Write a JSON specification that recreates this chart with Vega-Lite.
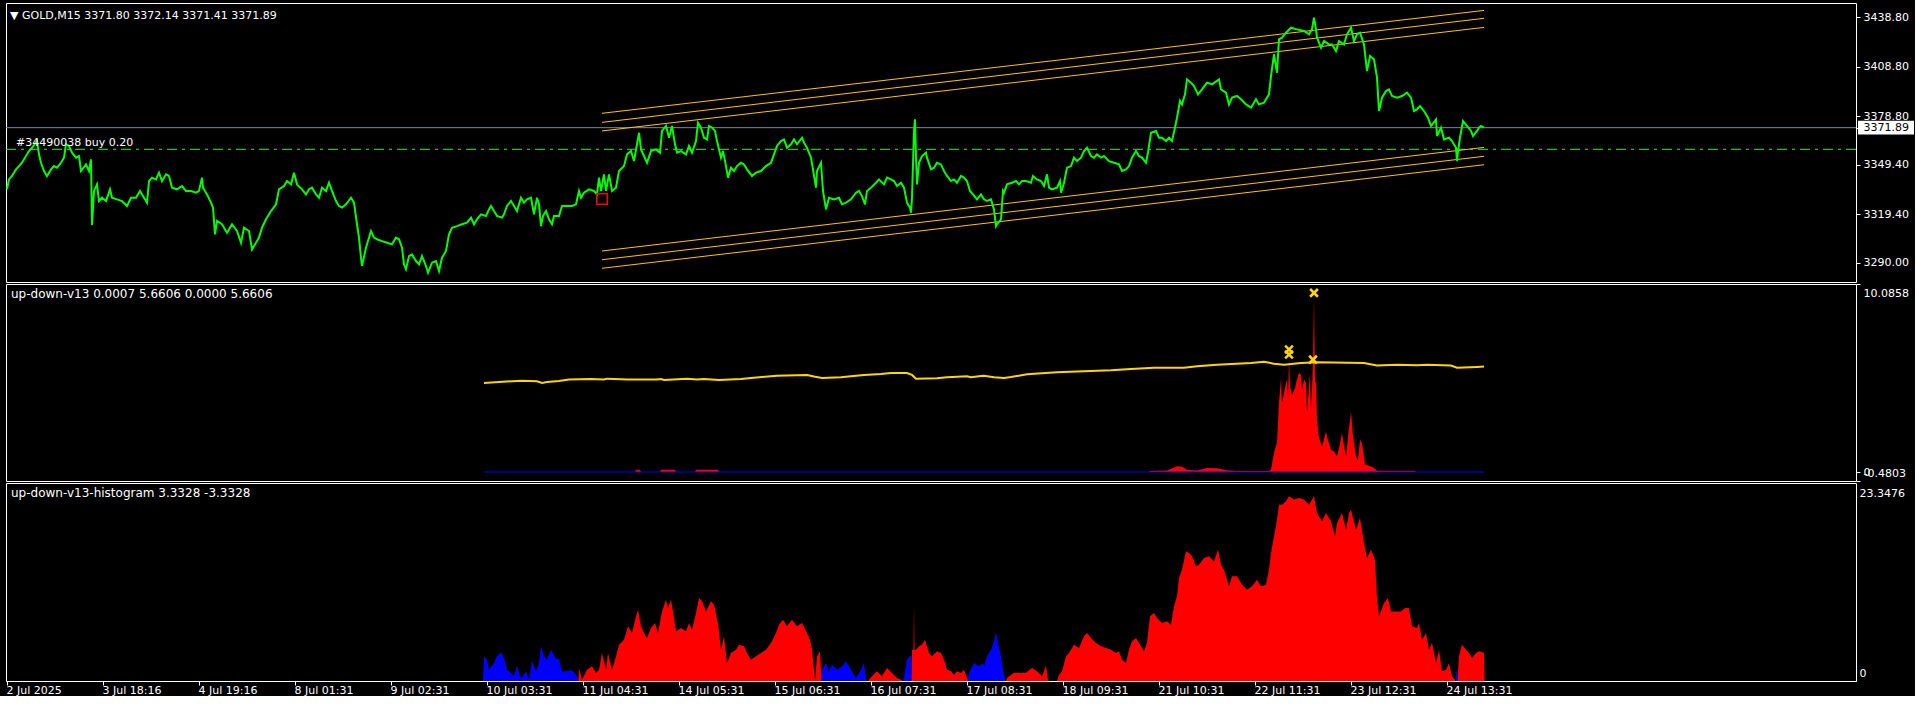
{
"$schema": "https://vega.github.io/schema/vega-lite/v6.json",
"background": "#000000",
"padding": {"left": 2, "top": 2, "right": 0, "bottom": 0},
"spacing": 2,
"bounds": "flush",
"config": {
 "font": "DejaVu Sans",
 "view": {"stroke": "#ffffff", "strokeWidth": 1, "fill": "#000000"},
 "axis": {"labelFont": "DejaVu Sans", "labelFontSize": 11, "labelColor": "#ffffff", "tickColor": "#ffffff", "tickSize": 4, "domain": false, "grid": false, "title": null, "labelOverlap": false, "labelBound": false},
 "title": {"font": "DejaVu Sans", "fontSize": 11, "fontWeight": "normal", "color": "#ffffff", "anchor": "start", "frame": "group", "baseline": "middle"}
},
"datasets": {
 "price": [
 {"i":0,"p":3334.5},{"i":2,"p":3340.5},{"i":5,"p":3342.6},{"i":9,"p":3346.6},{"i":12,"p":3348.6},{"i":15,"p":3350.6},{"i":19,"p":3354.7},{"i":22,"p":3357.7},{"i":25,"p":3359.7},{"i":30,"p":3363.8},{"i":32,"p":3355.7},{"i":34,"p":3350.6},{"i":37,"p":3345.6},{"i":40,"p":3342.6},{"i":44,"p":3346.6},{"i":47,"p":3348.6},{"i":50,"p":3347.6},{"i":54,"p":3350.6},{"i":57,"p":3353.7},{"i":59,"p":3361.8},{"i":62,"p":3360.8},{"i":65,"p":3356.7},{"i":69,"p":3353.7},{"i":72,"p":3354.7},{"i":74,"p":3345.6},{"i":79,"p":3349.6},{"i":82,"p":3345.6},{"i":84,"p":3352.7},{"i":85,"p":3312.8},{"i":87,"p":3333.5},{"i":90,"p":3337.5},{"i":92,"p":3327.4},{"i":95,"p":3329.4},{"i":99,"p":3327.4},{"i":103,"p":3334.5},{"i":105,"p":3329.4},{"i":110,"p":3328.4},{"i":115,"p":3327.4},{"i":120,"p":3324.4},{"i":124,"p":3329.4},{"i":129,"p":3329.4},{"i":133,"p":3333.5},{"i":137,"p":3329.4},{"i":140,"p":3326.4},{"i":142,"p":3339.5},{"i":145,"p":3341.6},{"i":149,"p":3340.5},{"i":152,"p":3344.6},{"i":155,"p":3339.5},{"i":159,"p":3343.6},{"i":162,"p":3342.6},{"i":165,"p":3335.5},{"i":170,"p":3334.5},{"i":175,"p":3336.5},{"i":179,"p":3333.5},{"i":184,"p":3333.5},{"i":189,"p":3332.5},{"i":192,"p":3333.5},{"i":195,"p":3341.6},{"i":196,"p":3335.5},{"i":200,"p":3331.4},{"i":204,"p":3326.4},{"i":206,"p":3323.4},{"i":208,"p":3307.2},{"i":210,"p":3315.3},{"i":215,"p":3313.3},{"i":220,"p":3308.2},{"i":225,"p":3313.3},{"i":230,"p":3309.2},{"i":234,"p":3302.1},{"i":237,"p":3311.2},{"i":242,"p":3309.2},{"i":245,"p":3298.1},{"i":249,"p":3302.1},{"i":252,"p":3305.2},{"i":255,"p":3311.2},{"i":259,"p":3316.3},{"i":264,"p":3321.3},{"i":269,"p":3325.4},{"i":272,"p":3334.5},{"i":277,"p":3336.5},{"i":280,"p":3339.5},{"i":284,"p":3337.5},{"i":287,"p":3344.6},{"i":290,"p":3337.5},{"i":295,"p":3334.5},{"i":299,"p":3331.4},{"i":302,"p":3334.5},{"i":305,"p":3335.5},{"i":309,"p":3331.4},{"i":312,"p":3329.4},{"i":315,"p":3335.5},{"i":319,"p":3333.5},{"i":322,"p":3338.5},{"i":325,"p":3333.5},{"i":329,"p":3327.4},{"i":332,"p":3324.4},{"i":335,"p":3323.4},{"i":339,"p":3325.4},{"i":344,"p":3329.4},{"i":347,"p":3326.4},{"i":350,"p":3313.3},{"i":352,"p":3305.2},{"i":354,"p":3293.0},{"i":355,"p":3288.0},{"i":359,"p":3299.1},{"i":364,"p":3309.2},{"i":367,"p":3305.2},{"i":370,"p":3304.2},{"i":375,"p":3303.1},{"i":380,"p":3302.1},{"i":385,"p":3301.1},{"i":389,"p":3305.2},{"i":392,"p":3304.2},{"i":395,"p":3299.1},{"i":397,"p":3289.0},{"i":399,"p":3286.0},{"i":402,"p":3294.0},{"i":405,"p":3295.0},{"i":409,"p":3291.0},{"i":412,"p":3289.0},{"i":415,"p":3294.0},{"i":419,"p":3288.0},{"i":421,"p":3283.9},{"i":425,"p":3290.0},{"i":429,"p":3291.0},{"i":432,"p":3284.9},{"i":435,"p":3293.0},{"i":439,"p":3297.1},{"i":442,"p":3307.2},{"i":445,"p":3311.2},{"i":450,"p":3312.2},{"i":455,"p":3313.3},{"i":460,"p":3314.3},{"i":464,"p":3317.3},{"i":467,"p":3313.3},{"i":470,"p":3316.3},{"i":474,"p":3319.3},{"i":479,"p":3318.3},{"i":482,"p":3322.3},{"i":484,"p":3324.4},{"i":487,"p":3321.3},{"i":490,"p":3318.3},{"i":495,"p":3317.3},
 {"i":497,"p":3319.3},{"i":500,"p":3324.4},{"i":504,"p":3327.4},{"i":507,"p":3324.4},{"i":510,"p":3321.3},{"i":514,"p":3329.4},{"i":517,"p":3326.4},{"i":520,"p":3328.4},{"i":524,"p":3329.4},{"i":527,"p":3319.3},{"i":530,"p":3329.4},{"i":532,"p":3325.4},{"i":534,"p":3312.2},{"i":536,"p":3318.3},{"i":539,"p":3321.3},{"i":542,"p":3316.3},{"i":545,"p":3313.3},{"i":547,"p":3318.3},{"i":552,"p":3318.3},{"i":555,"p":3324.4},{"i":560,"p":3324.4},{"i":565,"p":3324.4},{"i":569,"p":3325.4},{"i":572,"p":3333.5},{"i":574,"p":3329.4},{"i":577,"p":3332.4},{"i":582,"p":3334.5},{"i":587,"p":3333.5},{"i":590,"p":3331.4},{"i":592,"p":3341.6},{"i":594,"p":3333.5},{"i":597,"p":3343.6},{"i":599,"p":3333.5},{"i":602,"p":3343.6},{"i":605,"p":3333.5},{"i":609,"p":3335.5},{"i":612,"p":3345.6},{"i":617,"p":3348.6},{"i":620,"p":3355.7},{"i":624,"p":3357.7},{"i":627,"p":3351.7},{"i":630,"p":3361.8},{"i":632,"p":3368.8},{"i":634,"p":3358.7},{"i":637,"p":3354.7},{"i":640,"p":3350.6},{"i":644,"p":3357.7},{"i":649,"p":3358.7},{"i":653,"p":3356.7},{"i":655,"p":3369.9},{"i":659,"p":3372.9},{"i":662,"p":3365.8},{"i":665,"p":3372.9},{"i":668,"p":3361.8},{"i":670,"p":3356.7},{"i":674,"p":3357.7},{"i":679,"p":3355.7},{"i":682,"p":3360.8},{"i":685,"p":3356.7},{"i":689,"p":3363.8},{"i":691,"p":3374.9},{"i":694,"p":3371.9},{"i":697,"p":3365.8},{"i":700,"p":3364.8},{"i":702,"p":3372.9},{"i":705,"p":3371.9},{"i":708,"p":3369.9},{"i":710,"p":3363.8},{"i":714,"p":3353.7},{"i":716,"p":3357.7},{"i":719,"p":3348.6},{"i":721,"p":3341.6},{"i":724,"p":3347.6},{"i":727,"p":3345.6},{"i":730,"p":3348.6},{"i":734,"p":3350.6},{"i":737,"p":3349.6},{"i":740,"p":3346.6},{"i":745,"p":3342.6},{"i":749,"p":3344.6},{"i":754,"p":3345.6},{"i":759,"p":3348.6},{"i":764,"p":3350.6},{"i":767,"p":3355.7},{"i":770,"p":3360.8},{"i":774,"p":3363.8},{"i":777,"p":3364.8},{"i":780,"p":3359.7},{"i":784,"p":3361.8},{"i":787,"p":3364.8},{"i":790,"p":3361.8},{"i":795,"p":3365.8},{"i":797,"p":3362.8},{"i":800,"p":3359.7},{"i":804,"p":3353.7},{"i":806,"p":3346.6},{"i":809,"p":3335.5},{"i":810,"p":3345.6},{"i":814,"p":3350.6},{"i":816,"p":3333.5},{"i":819,"p":3322.3},{"i":822,"p":3329.4},{"i":827,"p":3328.4},{"i":832,"p":3329.4},{"i":835,"p":3325.4},{"i":839,"p":3326.4},{"i":844,"p":3328.4},{"i":849,"p":3332.4},{"i":852,"p":3333.5},{"i":855,"p":3330.4},{"i":858,"p":3325.4},{"i":860,"p":3333.5},{"i":864,"p":3335.5},{"i":869,"p":3338.5},{"i":872,"p":3340.5},{"i":877,"p":3337.5},{"i":880,"p":3341.6},{"i":884,"p":3340.5},{"i":887,"p":3339.5},{"i":890,"p":3336.5},{"i":894,"p":3338.5},{"i":897,"p":3335.5},{"i":900,"p":3326.4},{"i":903,"p":3323.4},{"i":904,"p":3320.3},{"i":905,"p":3329.4},{"i":907,"p":3369.9},{"i":908,"p":3376.9},{"i":909,"p":3353.7},{"i":910,"p":3337.5},{"i":912,"p":3350.6},{"i":915,"p":3354.7},{"i":919,"p":3356.7},{"i":920,"p":3353.7},{"i":924,"p":3346.6},{"i":927,"p":3347.6},{"i":930,"p":3350.6},{"i":934,"p":3349.6},{"i":937,"p":3345.6},{"i":940,"p":3342.6},{"i":944,"p":3339.5},{"i":947,"p":3340.5},{"i":950,"p":3338.5},{"i":954,"p":3342.6},{"i":957,"p":3341.6},{"i":960,"p":3339.5},{"i":963,"p":3333.5},{"i":966,"p":3331.4},{"i":970,"p":3328.4},{"i":974,"p":3331.4},{"i":977,"p":3328.4},{"i":980,"p":3327.4},{"i":984,"p":3328.4},{"i":987,"p":3322.3},{"i":989,"p":3312.2},{"i":990,"p":3313.3},{"i":994,"p":3316.3},{"i":996,"p":3333.5},
 {"i":997,"p":3332.4},{"i":1000,"p":3337.5},{"i":1005,"p":3338.5},{"i":1009,"p":3339.5},{"i":1012,"p":3337.5},{"i":1015,"p":3339.5},{"i":1019,"p":3339.5},{"i":1024,"p":3338.5},{"i":1026,"p":3342.6},{"i":1030,"p":3340.5},{"i":1034,"p":3339.5},{"i":1037,"p":3336.5},{"i":1040,"p":3343.6},{"i":1042,"p":3335.5},{"i":1045,"p":3334.5},{"i":1050,"p":3335.5},{"i":1053,"p":3339.5},{"i":1054,"p":3332.4},{"i":1057,"p":3338.5},{"i":1060,"p":3347.6},{"i":1064,"p":3348.6},{"i":1067,"p":3353.7},{"i":1070,"p":3351.6},{"i":1074,"p":3353.7},{"i":1077,"p":3357.7},{"i":1080,"p":3359.7},{"i":1084,"p":3354.7},{"i":1087,"p":3353.7},{"i":1090,"p":3355.7},{"i":1094,"p":3353.7},{"i":1097,"p":3354.7},{"i":1102,"p":3351.6},{"i":1107,"p":3350.6},{"i":1112,"p":3349.6},{"i":1115,"p":3345.6},{"i":1119,"p":3346.6},{"i":1122,"p":3348.6},{"i":1125,"p":3353.7},{"i":1129,"p":3357.7},{"i":1132,"p":3354.7},{"i":1135,"p":3353.7},{"i":1139,"p":3350.6},{"i":1141,"p":3356.7},{"i":1144,"p":3368.8},{"i":1149,"p":3369.9},{"i":1152,"p":3365.8},{"i":1155,"p":3365.8},{"i":1159,"p":3363.8},{"i":1162,"p":3365.8},{"i":1165,"p":3363.8},{"i":1168,"p":3371.9},{"i":1170,"p":3377.9},{"i":1173,"p":3388.1},{"i":1175,"p":3386.0},{"i":1178,"p":3392.1},{"i":1180,"p":3401.2},{"i":1184,"p":3399.2},{"i":1187,"p":3397.1},{"i":1191,"p":3392.1},{"i":1195,"p":3395.1},{"i":1200,"p":3399.2},{"i":1205,"p":3398.2},{"i":1212,"p":3401.2},{"i":1214,"p":3395.1},{"i":1219,"p":3393.1},{"i":1222,"p":3386.0},{"i":1225,"p":3390.1},{"i":1230,"p":3391.1},{"i":1234,"p":3389.1},{"i":1239,"p":3386.0},{"i":1244,"p":3384.0},{"i":1249,"p":3389.1},{"i":1252,"p":3386.0},{"i":1257,"p":3387.0},{"i":1262,"p":3392.1},{"i":1264,"p":3403.2},{"i":1267,"p":3416.4},{"i":1270,"p":3405.2},{"i":1272,"p":3425.5},{"i":1275,"p":3426.5},{"i":1279,"p":3429.5},{"i":1284,"p":3432.5},{"i":1290,"p":3431.5},{"i":1297,"p":3430.5},{"i":1302,"p":3428.5},{"i":1305,"p":3431.5},{"i":1307,"p":3438.6},{"i":1309,"p":3431.5},{"i":1310,"p":3426.5},{"i":1314,"p":3420.4},{"i":1317,"p":3424.4},{"i":1322,"p":3422.4},{"i":1325,"p":3422.4},{"i":1329,"p":3418.4},{"i":1332,"p":3424.4},{"i":1337,"p":3422.4},{"i":1340,"p":3428.5},{"i":1344,"p":3432.5},{"i":1347,"p":3424.4},{"i":1350,"p":3428.5},{"i":1353,"p":3429.5},{"i":1357,"p":3422.4},{"i":1360,"p":3406.2},{"i":1363,"p":3415.3},{"i":1367,"p":3413.3},{"i":1370,"p":3402.2},{"i":1372,"p":3382.0},{"i":1375,"p":3390.1},{"i":1379,"p":3394.1},{"i":1382,"p":3395.1},{"i":1385,"p":3391.1},{"i":1390,"p":3390.1},{"i":1395,"p":3391.1},{"i":1400,"p":3393.1},{"i":1404,"p":3390.1},{"i":1407,"p":3382.0},{"i":1410,"p":3383.0},{"i":1413,"p":3385.0},{"i":1417,"p":3382.0},{"i":1421,"p":3377.9},{"i":1424,"p":3372.9},{"i":1429,"p":3376.9},{"i":1430,"p":3366.8},{"i":1434,"p":3371.9},{"i":1437,"p":3364.8},{"i":1442,"p":3365.8},{"i":1445,"p":3363.8},{"i":1449,"p":3359.7},{"i":1450,"p":3351.6},{"i":1451,"p":3357.7},{"i":1453,"p":3365.8},{"i":1456,"p":3375.9},{"i":1460,"p":3372.9},{"i":1464,"p":3369.9},{"i":1466,"p":3366.8},{"i":1470,"p":3369.9},{"i":1472,"p":3371.9},{"i":1474,"p":3372.9},{"i":1477,"p":3371.89}
 ],
 "chan": [
 {"id":"u1","i":595,"p":3380.6},{"id":"u1","i":1477,"p":3443.0},
 {"id":"u2","i":595,"p":3375.1},{"id":"u2","i":1477,"p":3438.2},
 {"id":"u3","i":595,"p":3369.9},{"id":"u3","i":1477,"p":3432.7},
 {"id":"l1","i":595,"p":3297.1},{"id":"l1","i":1477,"p":3359.9},
 {"id":"l2","i":595,"p":3291.8},{"id":"l2","i":1477,"p":3354.5},
 {"id":"l3","i":595,"p":3286.6},{"id":"l3","i":1477,"p":3349.4}
 ],
 "midyel": [
 {"i":477,"v":4.78},{"i":492,"v":4.83},{"i":515,"v":4.90},{"i":530,"v":4.87},{"i":535,"v":4.78},{"i":540,"v":4.83},{"i":552,"v":4.88},{"i":562,"v":4.96},{"i":584,"v":4.99},{"i":597,"v":4.96},{"i":600,"v":5.01},{"i":607,"v":4.99},{"i":620,"v":4.96},{"i":650,"v":4.96},{"i":654,"v":4.99},{"i":657,"v":4.94},{"i":680,"v":5.01},{"i":690,"v":4.96},{"i":697,"v":4.99},{"i":712,"v":4.94},{"i":734,"v":4.99},{"i":744,"v":5.05},{"i":755,"v":5.10},{"i":770,"v":5.17},{"i":800,"v":5.21},{"i":807,"v":5.12},{"i":815,"v":5.05},{"i":834,"v":5.08},{"i":844,"v":5.14},{"i":857,"v":5.21},{"i":874,"v":5.26},{"i":884,"v":5.31},{"i":900,"v":5.31},{"i":905,"v":5.21},{"i":909,"v":5.01},{"i":930,"v":5.03},{"i":940,"v":5.08},{"i":960,"v":5.14},{"i":964,"v":5.08},{"i":974,"v":5.15},{"i":977,"v":5.17},{"i":987,"v":5.08},{"i":997,"v":5.05},{"i":1004,"v":5.10},{"i":1020,"v":5.24},{"i":1050,"v":5.35},{"i":1077,"v":5.40},{"i":1104,"v":5.46},{"i":1124,"v":5.53},{"i":1147,"v":5.60},{"i":1177,"v":5.60},{"i":1190,"v":5.67},{"i":1210,"v":5.76},{"i":1244,"v":5.85},{"i":1257,"v":5.92},{"i":1267,"v":5.81},{"i":1277,"v":5.76},{"i":1294,"v":5.85},{"i":1310,"v":5.89},{"i":1357,"v":5.85},{"i":1370,"v":5.71},{"i":1390,"v":5.76},{"i":1410,"v":5.73},{"i":1420,"v":5.76},{"i":1444,"v":5.71},{"i":1450,"v":5.60},{"i":1470,"v":5.64},{"i":1477,"v":5.66}
 ],
 "midred": [
 {"i":477,"v":0},{"i":628,"v":0},{"i":629,"v":0.12},{"i":633,"v":0.12},{"i":634,"v":0},{"i":653,"v":0},{"i":654,"v":0.12},{"i":668,"v":0.12},{"i":669,"v":0},{"i":688,"v":0},{"i":689,"v":0.12},{"i":711,"v":0.12},{"i":712,"v":0},{"i":1142,"v":0},{"i":1143,"v":0.05},{"i":1160,"v":0.08},{"i":1170,"v":0.31},{"i":1175,"v":0.28},{"i":1180,"v":0.12},{"i":1190,"v":0.08},{"i":1200,"v":0.22},{"i":1210,"v":0.2},{"i":1220,"v":0.1},{"i":1230,"v":0.05},{"i":1262,"v":0.05},{"i":1264,"v":0.13},{"i":1267,"v":1.03},{"i":1270,"v":1.57},{"i":1272,"v":3.71},{"i":1274,"v":5.05},{"i":1275,"v":3.71},{"i":1277,"v":4.24},{"i":1279,"v":4.78},{"i":1280,"v":4.96},{"i":1281,"v":4.0},{"i":1282,"v":6.12},{"i":1283,"v":4.6},{"i":1285,"v":4.15},{"i":1288,"v":4.51},{"i":1290,"v":4.96},{"i":1292,"v":5.31},{"i":1294,"v":5.22},{"i":1295,"v":4.42},{"i":1297,"v":4.96},{"i":1299,"v":4.78},{"i":1300,"v":3.17},{"i":1303,"v":5.31},{"i":1304,"v":3.35},{"i":1305,"v":4.5},{"i":1306,"v":5.85},{"i":1307,"v":9.43},{"i":1308,"v":4.9},{"i":1309,"v":4.78},{"i":1310,"v":2.81},{"i":1312,"v":1.82},{"i":1315,"v":1.37},{"i":1319,"v":2.18},{"i":1320,"v":1.91},{"i":1324,"v":1.19},{"i":1327,"v":1.10},{"i":1330,"v":0.84},{"i":1332,"v":1.28},{"i":1335,"v":2.09},{"i":1336,"v":1.73},{"i":1339,"v":0.84},{"i":1341,"v":1.91},{"i":1344,"v":3.25},{"i":1346,"v":1.91},{"i":1349,"v":0.84},{"i":1351,"v":0.66},{"i":1353,"v":1.73},{"i":1355,"v":1.55},{"i":1358,"v":0.40},{"i":1362,"v":0.34},{"i":1367,"v":0.22},{"i":1370,"v":0.07},{"i":1408,"v":0.05},{"i":1409,"v":0},{"i":1477,"v":0}
 ],
 "midx": [
 {"i":1282,"v":6.57},{"i":1282,"v":6.30},{"i":1306,"v":6.03},{"i":1307,"v":9.61}
 ],
 "hist": [
 {"s":"b1","c":"b","i":476,"v":0},{"s":"b1","c":"b","i":477,"v":2.91},{"s":"b1","c":"b","i":480,"v":2.52},{"s":"b1","c":"b","i":482,"v":1.34},{"s":"b1","c":"b","i":487,"v":2.12},{"s":"b1","c":"b","i":490,"v":2.91},{"s":"b1","c":"b","i":494,"v":3.38},{"s":"b1","c":"b","i":497,"v":2.71},{"s":"b1","c":"b","i":500,"v":1.34},{"s":"b1","c":"b","i":504,"v":0.94},{"s":"b1","c":"b","i":507,"v":0.55},{"s":"b1","c":"b","i":510,"v":1.81},{"s":"b1","c":"b","i":513,"v":0.55},{"s":"b1","c":"b","i":515,"v":0.35},{"s":"b1","c":"b","i":519,"v":1.14},{"s":"b1","c":"b","i":522,"v":0.16},{"s":"b1","c":"b","i":525,"v":2.32},{"s":"b1","c":"b","i":529,"v":1.14},{"s":"b1","c":"b","i":532,"v":2.12},{"s":"b1","c":"b","i":534,"v":4.09},{"s":"b1","c":"b","i":537,"v":2.91},{"s":"b1","c":"b","i":540,"v":2.52},{"s":"b1","c":"b","i":544,"v":3.69},{"s":"b1","c":"b","i":549,"v":2.59},{"s":"b1","c":"b","i":552,"v":2.59},{"s":"b1","c":"b","i":555,"v":1.14},{"s":"b1","c":"b","i":560,"v":1.14},{"s":"b1","c":"b","i":565,"v":1.26},{"s":"b1","c":"b","i":569,"v":0.75},{"s":"b1","c":"b","i":571,"v":0.35},{"s":"b1","c":"b","i":571.5,"v":0},
 {"s":"r1","c":"r","i":571.5,"v":0},{"s":"r1","c":"r","i":572,"v":1.53},{"s":"r1","c":"r","i":575,"v":0.16},{"s":"r1","c":"r","i":580,"v":1.34},{"s":"r1","c":"r","i":585,"v":1.73},{"s":"r1","c":"r","i":589,"v":0.94},{"s":"r1","c":"r","i":592,"v":1.34},{"s":"r1","c":"r","i":595,"v":3.30},{"s":"r1","c":"r","i":599,"v":1.34},{"s":"r1","c":"r","i":601,"v":3.30},{"s":"r1","c":"r","i":605,"v":1.34},{"s":"r1","c":"r","i":609,"v":2.91},{"s":"r1","c":"r","i":612,"v":4.28},{"s":"r1","c":"r","i":617,"v":4.87},{"s":"r1","c":"r","i":621,"v":6.45},{"s":"r1","c":"r","i":625,"v":5.66},{"s":"r1","c":"r","i":629,"v":7.63},{"s":"r1","c":"r","i":631,"v":8.41},{"s":"r1","c":"r","i":634,"v":6.45},{"s":"r1","c":"r","i":637,"v":5.66},{"s":"r1","c":"r","i":640,"v":5.07},{"s":"r1","c":"r","i":644,"v":6.25},{"s":"r1","c":"r","i":648,"v":6.84},{"s":"r1","c":"r","i":651,"v":5.66},{"s":"r1","c":"r","i":655,"v":8.21},{"s":"r1","c":"r","i":659,"v":9.59},{"s":"r1","c":"r","i":661,"v":8.61},{"s":"r1","c":"r","i":664,"v":9.59},{"s":"r1","c":"r","i":666,"v":8.21},{"s":"r1","c":"r","i":669,"v":5.86},{"s":"r1","c":"r","i":674,"v":6.25},{"s":"r1","c":"r","i":679,"v":5.86},{"s":"r1","c":"r","i":682,"v":6.84},{"s":"r1","c":"r","i":685,"v":6.05},{"s":"r1","c":"r","i":689,"v":8.02},{"s":"r1","c":"r","i":692,"v":9.79},{"s":"r1","c":"r","i":695,"v":9.40},{"s":"r1","c":"r","i":699,"v":8.21},{"s":"r1","c":"r","i":704,"v":9.40},{"s":"r1","c":"r","i":707,"v":9.00},{"s":"r1","c":"r","i":711,"v":6.84},{"s":"r1","c":"r","i":714,"v":3.69},{"s":"r1","c":"r","i":717,"v":5.27},{"s":"r1","c":"r","i":720,"v":2.12},{"s":"r1","c":"r","i":724,"v":3.30},{"s":"r1","c":"r","i":729,"v":3.69},{"s":"r1","c":"r","i":732,"v":4.28},{"s":"r1","c":"r","i":737,"v":4.09},{"s":"r1","c":"r","i":740,"v":3.30},{"s":"r1","c":"r","i":744,"v":2.52},{"s":"r1","c":"r","i":749,"v":2.91},{"s":"r1","c":"r","i":754,"v":3.30},{"s":"r1","c":"r","i":759,"v":3.69},{"s":"r1","c":"r","i":764,"v":4.48},{"s":"r1","c":"r","i":769,"v":5.66},{"s":"r1","c":"r","i":772,"v":6.64},{"s":"r1","c":"r","i":776,"v":7.23},{"s":"r1","c":"r","i":780,"v":6.45},{"s":"r1","c":"r","i":785,"v":7.23},{"s":"r1","c":"r","i":790,"v":6.45},{"s":"r1","c":"r","i":795,"v":6.84},{"s":"r1","c":"r","i":800,"v":5.66},{"s":"r1","c":"r","i":803,"v":4.87},{"s":"r1","c":"r","i":805,"v":3.69},{"s":"r1","c":"r","i":808,"v":0.16},{"s":"r1","c":"r","i":810,"v":2.91},{"s":"r1","c":"r","i":813,"v":3.50},{"s":"r1","c":"r","i":814.5,"v":0},
 {"s":"b2","c":"b","i":814.5,"v":0},{"s":"b2","c":"b","i":815,"v":1.34},{"s":"b2","c":"b","i":819,"v":2.12},{"s":"b2","c":"b","i":822,"v":1.14},{"s":"b2","c":"b","i":825,"v":1.93},{"s":"b2","c":"b","i":830,"v":1.34},{"s":"b2","c":"b","i":835,"v":1.73},{"s":"b2","c":"b","i":839,"v":2.32},{"s":"b2","c":"b","i":844,"v":1.34},{"s":"b2","c":"b","i":849,"v":0.35},{"s":"b2","c":"b","i":854,"v":1.34},{"s":"b2","c":"b","i":857,"v":2.12},{"s":"b2","c":"b","i":859,"v":0.16},{"s":"b2","c":"b","i":860,"v":0},
 {"s":"r2","c":"r","i":861,"v":0},{"s":"r2","c":"r","i":865,"v":0.55},{"s":"r2","c":"r","i":870,"v":1.14},{"s":"r2","c":"r","i":875,"v":0.55},{"s":"r2","c":"r","i":880,"v":1.53},{"s":"r2","c":"r","i":885,"v":0.94},{"s":"r2","c":"r","i":890,"v":0.35},{"s":"r2","c":"r","i":894,"v":0.16},{"s":"r2","c":"r","i":895,"v":0},
 {"s":"b3","c":"b","i":896,"v":0},{"s":"b3","c":"b","i":897,"v":0.35},{"s":"b3","c":"b","i":900,"v":2.52},{"s":"b3","c":"b","i":904,"v":3.10},{"s":"b3","c":"b","i":904.5,"v":0},
 {"s":"r3","c":"r","i":904.5,"v":0},{"s":"r3","c":"r","i":905,"v":3.69},{"s":"r3","c":"r","i":906.5,"v":3.69},{"s":"r3","c":"r","i":907,"v":9.00},{"s":"r3","c":"r","i":907.5,"v":3.69},{"s":"r3","c":"r","i":909,"v":3.69},{"s":"r3","c":"r","i":912,"v":4.09},{"s":"r3","c":"r","i":915,"v":4.28},{"s":"r3","c":"r","i":918,"v":4.87},{"s":"r3","c":"r","i":922,"v":3.30},{"s":"r3","c":"r","i":925,"v":2.91},{"s":"r3","c":"r","i":930,"v":3.50},{"s":"r3","c":"r","i":934,"v":3.30},{"s":"r3","c":"r","i":937,"v":2.52},{"s":"r3","c":"r","i":940,"v":1.34},{"s":"r3","c":"r","i":944,"v":1.14},{"s":"r3","c":"r","i":947,"v":0.75},{"s":"r3","c":"r","i":950,"v":1.14},{"s":"r3","c":"r","i":954,"v":0.94},{"s":"r3","c":"r","i":957,"v":1.34},{"s":"r3","c":"r","i":960,"v":0.35},{"s":"r3","c":"r","i":961,"v":0},
 {"s":"b4","c":"b","i":961,"v":0},{"s":"b4","c":"b","i":962,"v":0.94},{"s":"b4","c":"b","i":967,"v":2.12},{"s":"b4","c":"b","i":972,"v":1.73},{"s":"b4","c":"b","i":976,"v":2.12},{"s":"b4","c":"b","i":977,"v":1.73},{"s":"b4","c":"b","i":980,"v":2.91},{"s":"b4","c":"b","i":984,"v":3.69},{"s":"b4","c":"b","i":987,"v":4.68},{"s":"b4","c":"b","i":989,"v":5.74},{"s":"b4","c":"b","i":991,"v":4.48},{"s":"b4","c":"b","i":994,"v":2.91},{"s":"b4","c":"b","i":996,"v":1.34},{"s":"b4","c":"b","i":998,"v":0.16},{"s":"b4","c":"b","i":999,"v":0},
 {"s":"r4","c":"r","i":999,"v":0},{"s":"r4","c":"r","i":1000,"v":0.35},{"s":"r4","c":"r","i":1007,"v":0.98},{"s":"r4","c":"r","i":1014,"v":0.94},{"s":"r4","c":"r","i":1019,"v":0.98},{"s":"r4","c":"r","i":1025,"v":1.53},{"s":"r4","c":"r","i":1030,"v":1.14},{"s":"r4","c":"r","i":1035,"v":0.55},{"s":"r4","c":"r","i":1039,"v":1.81},{"s":"r4","c":"r","i":1041,"v":0.16},{"s":"r4","c":"r","i":1042,"v":0},
 {"s":"r5","c":"r","i":1050,"v":0},{"s":"r5","c":"r","i":1052,"v":0.75},{"s":"r5","c":"r","i":1055,"v":1.14},{"s":"r5","c":"r","i":1059,"v":2.91},{"s":"r5","c":"r","i":1062,"v":3.30},{"s":"r5","c":"r","i":1067,"v":4.28},{"s":"r5","c":"r","i":1072,"v":3.89},{"s":"r5","c":"r","i":1077,"v":5.27},{"s":"r5","c":"r","i":1080,"v":5.66},{"s":"r5","c":"r","i":1084,"v":5.07},{"s":"r5","c":"r","i":1089,"v":4.48},{"s":"r5","c":"r","i":1094,"v":4.09},{"s":"r5","c":"r","i":1099,"v":3.89},{"s":"r5","c":"r","i":1104,"v":3.69},{"s":"r5","c":"r","i":1109,"v":3.30},{"s":"r5","c":"r","i":1112,"v":3.50},{"s":"r5","c":"r","i":1115,"v":2.52},{"s":"r5","c":"r","i":1119,"v":2.12},{"s":"r5","c":"r","i":1122,"v":3.69},{"s":"r5","c":"r","i":1125,"v":4.68},{"s":"r5","c":"r","i":1129,"v":5.07},{"s":"r5","c":"r","i":1132,"v":4.48},{"s":"r5","c":"r","i":1137,"v":3.50},{"s":"r5","c":"r","i":1140,"v":4.48},{"s":"r5","c":"r","i":1143,"v":7.63},{"s":"r5","c":"r","i":1147,"v":8.02},{"s":"r5","c":"r","i":1150,"v":7.43},{"s":"r5","c":"r","i":1155,"v":6.84},{"s":"r5","c":"r","i":1160,"v":7.04},{"s":"r5","c":"r","i":1164,"v":6.64},{"s":"r5","c":"r","i":1167,"v":8.81},{"s":"r5","c":"r","i":1170,"v":9.98},{"s":"r5","c":"r","i":1172,"v":12.15},{"s":"r5","c":"r","i":1175,"v":13.13},{"s":"r5","c":"r","i":1179,"v":15.29},{"s":"r5","c":"r","i":1182,"v":15.10},{"s":"r5","c":"r","i":1185,"v":14.70},{"s":"r5","c":"r","i":1189,"v":13.52},{"s":"r5","c":"r","i":1192,"v":13.72},{"s":"r5","c":"r","i":1197,"v":14.50},{"s":"r5","c":"r","i":1202,"v":14.70},{"s":"r5","c":"r","i":1207,"v":14.11},{"s":"r5","c":"r","i":1211,"v":15.48},{"s":"r5","c":"r","i":1214,"v":13.72},{"s":"r5","c":"r","i":1217,"v":13.13},{"s":"r5","c":"r","i":1222,"v":11.16},{"s":"r5","c":"r","i":1225,"v":12.34},{"s":"r5","c":"r","i":1230,"v":12.34},{"s":"r5","c":"r","i":1235,"v":11.36},{"s":"r5","c":"r","i":1240,"v":10.77},{"s":"r5","c":"r","i":1245,"v":11.16},{"s":"r5","c":"r","i":1250,"v":11.95},{"s":"r5","c":"r","i":1254,"v":11.16},{"s":"r5","c":"r","i":1259,"v":11.36},{"s":"r5","c":"r","i":1262,"v":13.13},{"s":"r5","c":"r","i":1264,"v":15.10},{"s":"r5","c":"r","i":1267,"v":17.06},{"s":"r5","c":"r","i":1270,"v":19.02},{"s":"r5","c":"r","i":1272,"v":20.79},{"s":"r5","c":"r","i":1275,"v":20.79},{"s":"r5","c":"r","i":1279,"v":21.19},{"s":"r5","c":"r","i":1282,"v":21.78},{"s":"r5","c":"r","i":1287,"v":21.39},{"s":"r5","c":"r","i":1292,"v":21.58},{"s":"r5","c":"r","i":1297,"v":21.39},{"s":"r5","c":"r","i":1302,"v":20.79},{"s":"r5","c":"r","i":1307,"v":21.78},{"s":"r5","c":"r","i":1310,"v":19.81},{"s":"r5","c":"r","i":1315,"v":18.83},{"s":"r5","c":"r","i":1319,"v":19.81},{"s":"r5","c":"r","i":1324,"v":18.83},{"s":"r5","c":"r","i":1328,"v":17.06},{"s":"r5","c":"r","i":1330,"v":18.63},{"s":"r5","c":"r","i":1335,"v":19.81},{"s":"r5","c":"r","i":1339,"v":17.84},{"s":"r5","c":"r","i":1342,"v":19.81},{"s":"r5","c":"r","i":1344,"v":20.20},{"s":"r5","c":"r","i":1349,"v":17.84},{"s":"r5","c":"r","i":1353,"v":19.22},{"s":"r5","c":"r","i":1357,"v":16.27},{"s":"r5","c":"r","i":1360,"v":14.50},{"s":"r5","c":"r","i":1364,"v":15.48},{"s":"r5","c":"r","i":1368,"v":14.31},{"s":"r5","c":"r","i":1370,"v":9.79},{"s":"r5","c":"r","i":1372,"v":7.63},{"s":"r5","c":"r","i":1377,"v":9.20},{"s":"r5","c":"r","i":1381,"v":9.79},{"s":"r5","c":"r","i":1384,"v":8.21},{"s":"r5","c":"r","i":1389,"v":8.21},{"s":"r5","c":"r","i":1394,"v":8.21},{"s":"r5","c":"r","i":1398,"v":8.61},{"s":"r5","c":"r","i":1402,"v":8.61},{"s":"r5","c":"r","i":1405,"v":6.45},{"s":"r5","c":"r","i":1410,"v":6.25},{"s":"r5","c":"r","i":1412,"v":6.84},{"s":"r5","c":"r","i":1415,"v":4.87},{"s":"r5","c":"r","i":1419,"v":5.66},{"s":"r5","c":"r","i":1422,"v":3.69},{"s":"r5","c":"r","i":1425,"v":4.48},{"s":"r5","c":"r","i":1429,"v":2.12},{"s":"r5","c":"r","i":1432,"v":3.69},{"s":"r5","c":"r","i":1435,"v":1.14},{"s":"r5","c":"r","i":1439,"v":1.34},{"s":"r5","c":"r","i":1442,"v":2.12},{"s":"r5","c":"r","i":1445,"v":0.55},{"s":"r5","c":"r","i":1448,"v":0.16},{"s":"r5","c":"r","i":1448.5,"v":0},
 {"s":"b5","c":"b","i":1448.5,"v":0},{"s":"b5","c":"b","i":1449,"v":1.34},{"s":"b5","c":"b","i":1450,"v":1.0},{"s":"b5","c":"b","i":1450.5,"v":0},
 {"s":"r6","c":"r","i":1450.5,"v":0},{"s":"r6","c":"r","i":1452,"v":2.91},{"s":"r6","c":"r","i":1455,"v":4.28},{"s":"r6","c":"r","i":1459,"v":3.69},{"s":"r6","c":"r","i":1462,"v":3.30},{"s":"r6","c":"r","i":1465,"v":2.71},{"s":"r6","c":"r","i":1469,"v":3.30},{"s":"r6","c":"r","i":1472,"v":3.50},{"s":"r6","c":"r","i":1475,"v":3.38},{"s":"r6","c":"r","i":1477,"v":3.33},{"s":"r6","c":"r","i":1477.5,"v":0}
 ]
},
"vconcat": [
 {
  "width": 1850, "height": 279,
  "title": {"text": "▼  GOLD,M15  3371.80 3372.14 3371.41 3371.89", "offset": -18, "dx": 4},
  "encoding": {
   "x": {"field": "i", "type": "quantitative", "scale": {"domain": [-1, 1849], "nice": false, "zero": false}, "axis": null},
   "y": {"field": "p", "type": "quantitative", "scale": {"domain": [3278.28, 3447.5], "nice": false, "zero": false},
         "axis": {"orient": "right", "values": [3290, 3319.4, 3349.4, 3378.8, 3408.8, 3438.8, 3371.89], "format": ".2f", "labelPadding": 3, "zindex": 1,
                  "labelColor": {"condition": {"test": "abs(datum.value - 3371.89) < 0.001", "value": "#000000"}, "value": "#ffffff"}}}
  },
  "layer": [
   {"data": {"values": [{"i": -1, "p": 3371.89}, {"i": 1849, "p": 3371.89}]}, "mark": {"type": "line", "color": "#778899", "strokeWidth": 1}},
   {"data": {"values": [{"i": -1, "p": 3358.77}, {"i": 1849, "p": 3358.77}]}, "mark": {"type": "line", "color": "#33ee33", "strokeWidth": 1, "strokeDash": [10, 5, 3, 5]}},
   {"data": {"name": "chan"}, "mark": {"type": "line", "color": "#ffc400", "strokeWidth": 1}, "encoding": {"detail": {"field": "id", "type": "nominal"}}},
   {"data": {"name": "price"}, "mark": {"type": "line", "color": "#00ff00", "strokeWidth": 2}},
   {"data": {"values": [{"i": 9, "p": 3358.77, "t": "#34490038 buy 0.20"}]}, "mark": {"type": "text", "align": "left", "baseline": "bottom", "dy": -1, "color": "#ffffff", "fontSize": 11, "font": "DejaVu Sans"}, "encoding": {"text": {"field": "t", "type": "nominal"}}},
   {"data": {"values": [{"i": 595, "p": 3328.6}]}, "mark": {"type": "point", "shape": "square", "filled": false, "color": "#ff0000", "size": 110, "strokeWidth": 1.5, "opacity": 1}},
   {"data": {"values": [{"i": 1851, "i2": 1907, "p": 3367.8, "p2": 3376.1}]}, "mark": {"type": "rect", "color": "#ffffff"}, "encoding": {"x2": {"field": "i2"}, "y2": {"field": "p2"}}}
  ]
 },
 {
  "width": 1850, "height": 197,
  "title": {"text": "up-down-v13 0.0007 5.6606 0.0000 5.6606", "offset": -17, "dx": 5, "fontSize": 12},
  "encoding": {
   "x": {"field": "i", "type": "quantitative", "scale": {"domain": [-1, 1849], "nice": false, "zero": false}, "axis": null},
   "y": {"field": "v", "type": "quantitative", "scale": {"domain": [-0.4803, 10.0858], "nice": false, "zero": false},
         "axis": {"orient": "right", "values": [-0.4803, 0, 10.0858], "labelExpr": "datum.value == 0 ? '0' : (datum.value < 0 ? '-0.4803' : '10.0858')", "labelFlush": false, "labelPadding": 3,
                  "labelOffset": {"condition": [{"test": "datum.value < 0", "value": -8}, {"test": "datum.value > 5", "value": 9}], "value": 0}}}
  },
  "layer": [
   {"data": {"name": "midred"}, "mark": {"type": "area", "color": "#ff0000", "opacity": 1}, "encoding": {"y2": {"datum": 0}}},
   {"data": {"values": [{"i": 477, "v": 0}, {"i": 1477, "v": 0}]}, "mark": {"type": "line", "color": "#0000ff", "strokeWidth": 1}},
   {"data": {"name": "midyel"}, "mark": {"type": "line", "color": "#ffd700", "strokeWidth": 2}},
   {"data": {"name": "midx"}, "mark": {"type": "point", "shape": "M-1,-1L1,1M-1,1L1,-1", "filled": false, "color": "#ffd700", "size": 60, "strokeWidth": 2.5, "opacity": 1}}
  ]
 },
 {
  "width": 1850, "height": 198,
  "title": {"text": "up-down-v13-histogram 3.3328 -3.3328", "offset": -17.5, "dx": 5, "fontSize": 12},
  "data": {"name": "hist"},
  "mark": {"type": "area", "opacity": 1},
  "encoding": {
   "x": {"field": "i", "type": "quantitative", "scale": {"domain": [-1, 1849], "nice": false, "zero": false},
         "axis": {"values": [0, 96, 192, 288, 384, 480, 576, 672, 768, 864, 960, 1056, 1152, 1248, 1344, 1440],
                  "labelExpr": "['2 Jul 2025','3 Jul 18:16','4 Jul 19:16','8 Jul 01:31','9 Jul 02:31','10 Jul 03:31','11 Jul 04:31','14 Jul 05:31','15 Jul 06:31','16 Jul 07:31','17 Jul 08:31','18 Jul 09:31','21 Jul 10:31','22 Jul 11:31','23 Jul 12:31','24 Jul 13:31'][round(datum.value/96)]",
                  "labelAlign": "left", "labelOffset": -1, "labelPadding": -1, "domain": true, "domainColor": "#ffffff", "labelFlush": false}},
   "y": {"field": "v", "type": "quantitative", "scale": {"domain": [0, 23.3476], "nice": false, "zero": false},
         "axis": {"orient": "right", "values": [0, 23.3476], "labelExpr": "datum.value == 0 ? '0' : '23.3476'", "labelFlush": false, "labelPadding": 3, "tickSize": 0,
                  "labelOffset": {"condition": {"test": "datum.value == 0", "value": -8}, "value": 10}}},
   "y2": {"datum": 0},
   "color": {"field": "c", "type": "nominal", "scale": {"domain": ["r", "b"], "range": ["#ff0000", "#0000ff"]}, "legend": null},
   "detail": {"field": "s", "type": "nominal"}
  }
 }
]
}
